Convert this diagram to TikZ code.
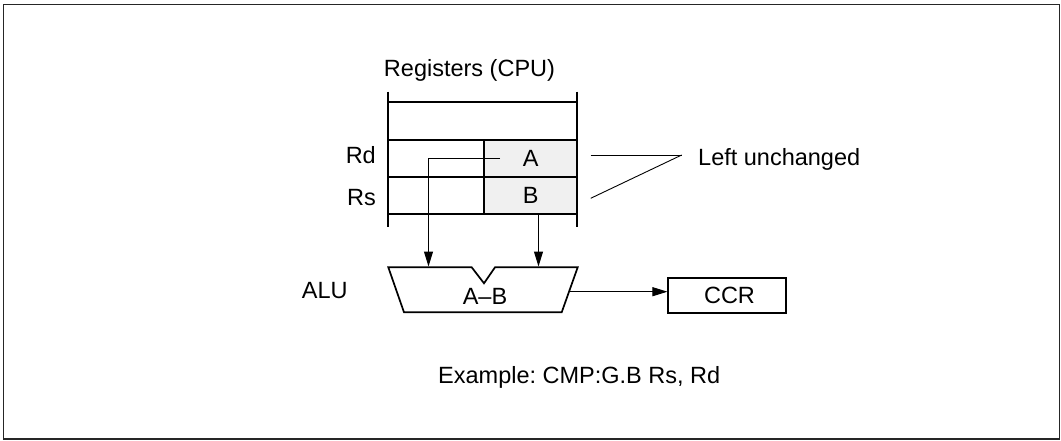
\documentclass[tikz,border=0pt]{standalone}
\usepackage{fontspec}
\setmainfont{Liberation Sans}
\usetikzlibrary{arrows.meta}
\begin{document}
\frenchspacing
\begin{tikzpicture}[x=1pt,y=-1pt,
  lbl/.style={inner sep=0pt, font=\fontsize{23.5}{28}\selectfont},
  reg/.style={line width=1.8pt},
  cell/.style={draw, line width=1.8pt, fill=black!6, minimum width=93pt,
    minimum height=37pt, inner sep=0pt, font=\fontsize{23.5}{28}\selectfont},
  arr/.style={line width=1pt, -{Triangle[length=15pt,width=9pt]}},
  thinline/.style={line width=0.9pt}]
\useasboundingbox (0,0) rectangle (1061,441);
\draw[line width=1.8pt, black!85] (3.5,4.5) rectangle (1059.5,439);

% registers title
\node[lbl, anchor=base] (title) at (469.5,76.7) {Registers (CPU)};

% register cells
\node[cell] (cellA) at (530.8,158.5) {A};
\node[cell, minimum height=37.3pt] (cellB) at (530.8,195.65) {B};

% register table lines
\draw[reg] (388.3,91.7) -- (388.3,226.7);
\draw[reg] (577.3,91.7) -- (577.3,226.7);
\foreach \yy in {102.3,140,177,214.3}
  \draw[reg] (388.3,\yy) -- (577.3,\yy);

% row labels
\node[lbl, anchor=base east] (rd) at (376,164) {Rd};
\node[lbl, anchor=base east] (rs) at (376,206) {Rs};

% left unchanged
\coordinate (luTip) at (681.7,155);
\coordinate (luA) at (590.7,155);
\coordinate (luB) at (590.7,198.3);
\draw[thinline] (luA) -- (luTip);
\draw[thinline] (luB) -- (luTip);
\node[lbl, anchor=base west] (lu) at (698,166) {Left unchanged};

% ALU
\draw[line width=1.7pt, line join=miter]
  (388.3,267.3) -- (471.7,267.3) -- (484,283.3) -- (495,267.3) -- (577.7,267.3)
  -- (561.7,312.3) -- (404,312.3) -- cycle;
\node[lbl, anchor=base] (alu) at (485,304) {A\textendash B};
\node[lbl, anchor=base west] (alulbl) at (301.7,298.3) {ALU};
\coordinate (aluA) at (428.5,266.5);
\coordinate (aluB) at (538.5,266.5);
\coordinate (aluOut) at (570,291.7);

% arrows
\coordinate (srcA) at (500,158.3);
\coordinate (srcB) at (538.5,214.3);
\draw[arr] (srcA) -| (aluA);
\draw[arr] (srcB) -- (aluB);

% CCR
\node[draw, line width=1.7pt, minimum width=117.4pt, minimum height=34.4pt,
  inner sep=0pt, font=\fontsize{23.5}{28}\selectfont] (ccr) at (727,295.5) {\hspace*{5pt}CCR};
\draw[arr] (aluOut) -- (aluOut -| ccr.west);

% example
\node[lbl, anchor=base west] (ex) at (438,383) {Example: CMP:G.B Rs, Rd};
\end{tikzpicture}
\end{document}
